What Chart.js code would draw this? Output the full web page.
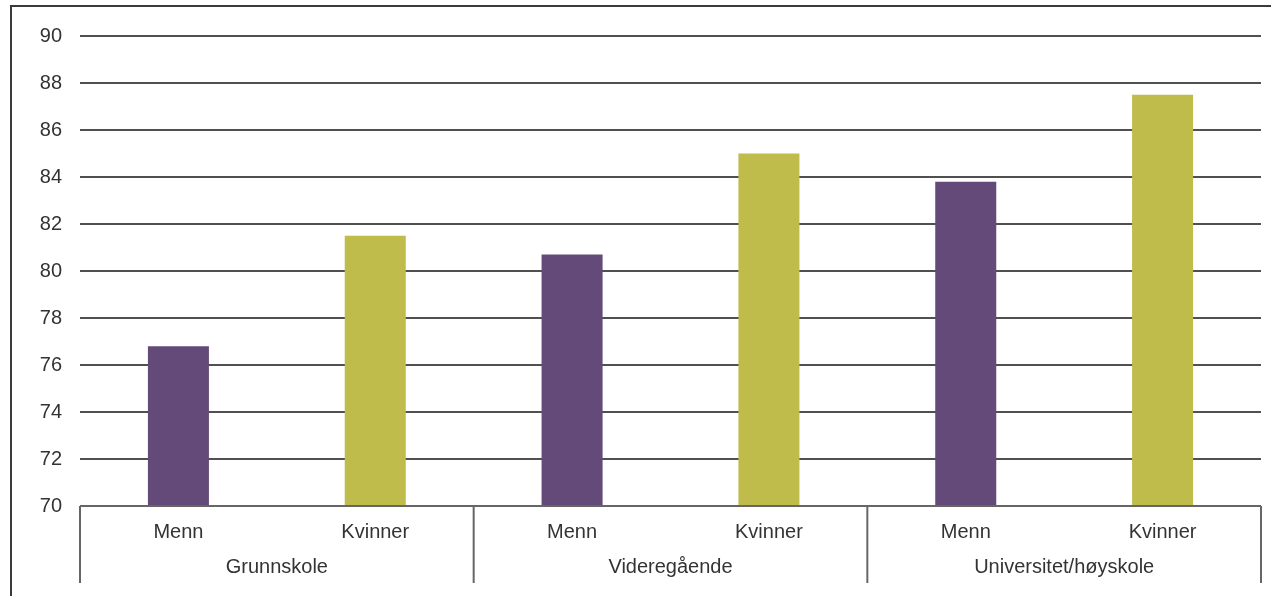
<!DOCTYPE html>
<html>
<head>
<meta charset="utf-8">
<script src="https://cdn.jsdelivr.net/npm/chart.js@4.4.1/dist/chart.umd.min.js"></script>
<style>
  html, body { margin: 0; padding: 0; background: #fff; }
  #wrap { width: 1271px; height: 596px; position: relative; }
</style>
</head>
<body>
<div id="wrap"><canvas id="chart" width="1271" height="596"></canvas></div>
<script>
const groups = ['Grunnskole', 'Videregående', 'Universitet/høyskole'];
const genders = ['Menn', 'Kvinner'];
const menn = [76.8, 80.7, 83.8];
const kvinner = [81.5, 85.0, 87.5];
const colors = ['#644a78', '#c0bc4c'];

// six bars: Menn, Kvinner per group
const labels = [];
const values = [];
const barColors = [];
groups.forEach((g, i) => {
  labels.push(genders[0]); values.push(menn[i]); barColors.push(colors[0]);
  labels.push(genders[1]); values.push(kvinner[i]); barColors.push(colors[1]);
});

const FONT = '"Liberation Sans", Arial, sans-serif';

const frameAndGroups = {
  id: 'frameAndGroups',
  beforeDraw(chart) {
    const ctx = chart.ctx;
    ctx.save();
    ctx.strokeStyle = '#3a3a3a';
    ctx.lineWidth = 2;
    ctx.beginPath();
    ctx.moveTo(11, 600);
    ctx.lineTo(11, 6);
    ctx.lineTo(1275, 6);
    ctx.stroke();
    ctx.restore();
  },
  afterDraw(chart) {
    const ctx = chart.ctx;
    const x = chart.scales.x;
    const area = chart.chartArea;
    const step = x.getPixelForValue(1) - x.getPixelForValue(0);
    ctx.save();
    ctx.strokeStyle = '#666';
    ctx.lineWidth = 2;
    // base line
    ctx.beginPath();
    ctx.moveTo(area.left, area.bottom);
    ctx.lineTo(area.right, area.bottom);
    ctx.stroke();
    // group separators
    for (let i = 0; i <= groups.length; i++) {
      const px = x.getPixelForValue(i * 2) - step / 2;
      ctx.beginPath();
      ctx.moveTo(px, area.bottom);
      ctx.lineTo(px, area.bottom + 77);
      ctx.stroke();
    }
    ctx.fillStyle = '#333';
    ctx.font = '20px ' + FONT;
    ctx.textAlign = 'center';
    ctx.textBaseline = 'middle';
    groups.forEach((g, i) => {
      const px = (x.getPixelForValue(i * 2) + x.getPixelForValue(i * 2 + 1)) / 2;
      ctx.fillText(g, px, area.bottom + 61);
    });
    ctx.restore();
  }
};

new Chart(document.getElementById('chart'), {
  type: 'bar',
  data: {
    labels: labels,
    datasets: [{
      data: values,
      backgroundColor: barColors,
      borderWidth: 0,
      barPercentage: 0.31,
      categoryPercentage: 1
    }]
  },
  options: {
    responsive: false,
    animation: false,
    layout: { padding: { left: 20, top: 36, right: 10, bottom: 0 } },
    plugins: { legend: { display: false }, tooltip: { enabled: false } },
    scales: {
      x: {
        grid: { display: false },
        border: { display: false },
        ticks: { color: '#333', font: { family: FONT, size: 20 }, padding: 6, maxRotation: 0 },
        afterFit(s) { s.height = 90; }
      },
      y: {
        min: 70,
        max: 90,
        grid: { color: '#505050', lineWidth: 2, drawTicks: false },
        border: { display: false },
        ticks: { stepSize: 2, color: '#333', font: { family: FONT, size: 20 }, padding: 18 },
        afterFit(s) { s.width = 60; }
      }
    }
  },
  plugins: [frameAndGroups]
});
</script>
</body>
</html>
